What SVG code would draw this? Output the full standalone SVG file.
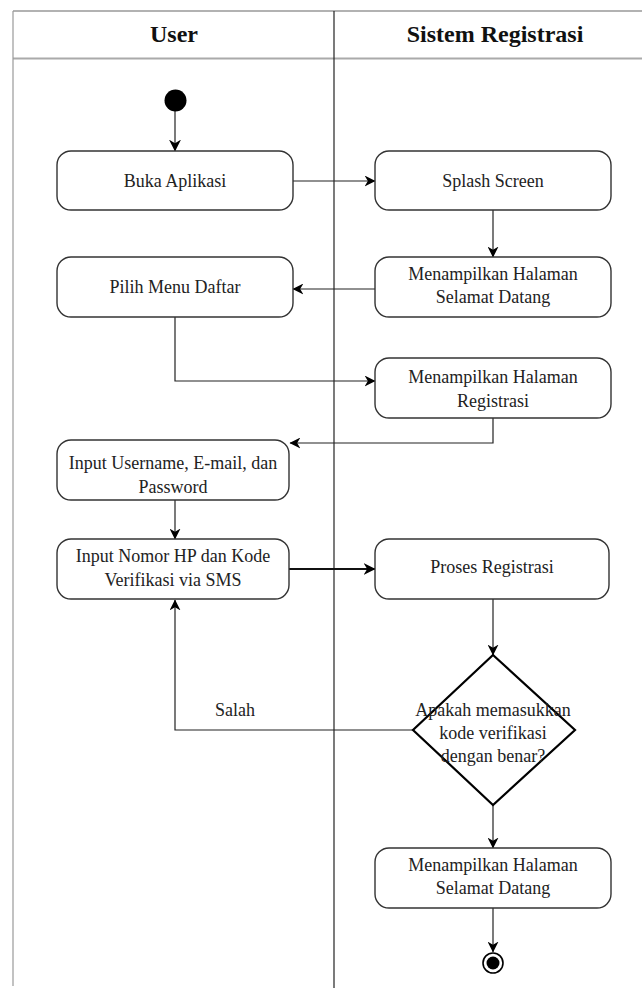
<svg xmlns="http://www.w3.org/2000/svg" width="642" height="988" viewBox="0 0 642 988" font-family="'Liberation Serif', Tinos, 'Times New Roman', 'Nimbus Roman', 'DejaVu Serif', serif">
<style>
.frame{fill:none;stroke:#999;stroke-width:1.2}
.box{fill:#fff;stroke:#333;stroke-width:1.4}
.dia{fill:#fff;stroke:#000;stroke-width:2.2}
.t{font-size:18px;fill:#222;text-anchor:middle}
.h{font-size:24px;font-weight:bold;fill:#111;text-anchor:middle}
.c{fill:none;stroke:#222;stroke-width:1.2}
.c2{fill:none;stroke:#111;stroke-width:2}
</style>
<defs>
<marker id="arr" viewBox="0 0 10 10" refX="9.5" refY="5" markerWidth="11" markerHeight="11" markerUnits="userSpaceOnUse" orient="auto">
<path d="M0,0 L10,5 L0,10 L3,5 z" fill="#000"/>
</marker>
<marker id="arrL" viewBox="0 0 10 10" refX="9.5" refY="5" markerWidth="12" markerHeight="12" markerUnits="userSpaceOnUse" orient="auto">
<path d="M0,0 L10,5 L0,10 L3,5 z" fill="#000"/>
</marker>
</defs>
<rect width="642" height="988" fill="#fff"/>
<g id="lanes">
<line class="frame" x1="13" y1="11" x2="642" y2="11" style="stroke:#666"/>
<line class="frame" x1="13" y1="58.5" x2="642" y2="58.5" style="stroke-width:2;stroke:#aaa"/>
<line class="frame" x1="13" y1="11" x2="13" y2="986"/>
<line class="frame" x1="334" y1="11" x2="334" y2="988" style="stroke:#222"/>
<text class="h" x="174" y="42">User</text>
<text class="h" x="495" y="42">Sistem Registrasi</text>
</g>
<g id="connectors">
<line class="c" x1="175" y1="110" x2="175" y2="151" marker-end="url(#arrL)"/>
<line class="c" x1="293" y1="181" x2="375" y2="181" marker-end="url(#arr)"/>
<line class="c" x1="493" y1="210" x2="493" y2="257" marker-end="url(#arr)"/>
<line class="c" x1="375" y1="289" x2="293" y2="289" marker-end="url(#arr)"/>
<polyline class="c" points="175,317 175,381 375,381" marker-end="url(#arr)"/>
<polyline class="c" points="493,418 493,443 290,443" marker-end="url(#arr)"/>
<line class="c" x1="175" y1="500" x2="175" y2="539" marker-end="url(#arr)"/>
<line class="c2" x1="289" y1="569" x2="375" y2="569" marker-end="url(#arrL)"/>
<line class="c" x1="493" y1="599" x2="493" y2="655" marker-end="url(#arr)"/>
<polyline class="c" points="413,730 175,730 175,600" marker-end="url(#arr)"/>
<text class="t" x="235" y="716">Salah</text>
<line class="c" x1="493" y1="805" x2="493" y2="848" marker-end="url(#arr)"/>
<line class="c" x1="493" y1="908" x2="493" y2="952" marker-end="url(#arr)"/>
</g>
<g id="start">
<circle cx="175.5" cy="100.5" r="11" fill="#000"/>
</g>
<g id="buka">
<rect class="box" x="57" y="151" width="236" height="59" rx="14"/>
<text class="t" x="175" y="187">Buka Aplikasi</text>
</g>
<g id="splash">
<rect class="box" x="375" y="151" width="236" height="59" rx="14"/>
<text class="t" x="493" y="187">Splash Screen</text>
</g>
<g id="selamat1">
<rect class="box" x="375" y="257" width="236" height="60" rx="14"/>
<text class="t" x="493" y="280">Menampilkan Halaman</text>
<text class="t" x="493" y="303">Selamat Datang</text>
</g>
<g id="pilih">
<rect class="box" x="57" y="257" width="236" height="60" rx="14"/>
<text class="t" x="175" y="293">Pilih Menu Daftar</text>
</g>
<g id="registrasi">
<rect class="box" x="375" y="358" width="236" height="60" rx="14"/>
<text class="t" x="493" y="383">Menampilkan Halaman</text>
<text class="t" x="493" y="407">Registrasi</text>
</g>
<g id="username">
<rect class="box" x="57" y="440" width="232" height="60" rx="14"/>
<text class="t" x="173" y="469">Input Username, E-mail, dan</text>
<text class="t" x="173" y="493">Password</text>
</g>
<g id="nomor">
<rect class="box" x="57" y="539" width="232" height="60" rx="14"/>
<text class="t" x="173" y="562">Input Nomor HP dan Kode</text>
<text class="t" x="173" y="586">Verifikasi via SMS</text>
</g>
<g id="proses">
<rect class="box" x="375" y="539" width="234" height="60" rx="14"/>
<text class="t" x="492" y="573">Proses Registrasi</text>
</g>
<g id="decision">
<polygon class="dia" points="493,655 575,730 493,805 413,730"/>
<text class="t" x="493" y="716">Apakah memasukkan</text>
<text class="t" x="493" y="739">kode verifikasi</text>
<text class="t" x="493" y="762">dengan benar?</text>
</g>
<g id="selamat2">
<rect class="box" x="375" y="848" width="236" height="60" rx="14"/>
<text class="t" x="493" y="871">Menampilkan Halaman</text>
<text class="t" x="493" y="894">Selamat Datang</text>
</g>
<g id="end">
<circle cx="493" cy="963" r="10" fill="#fff" stroke="#000" stroke-width="1.6"/>
<circle cx="493" cy="963" r="6.5" fill="#000"/>
</g>
</svg>
